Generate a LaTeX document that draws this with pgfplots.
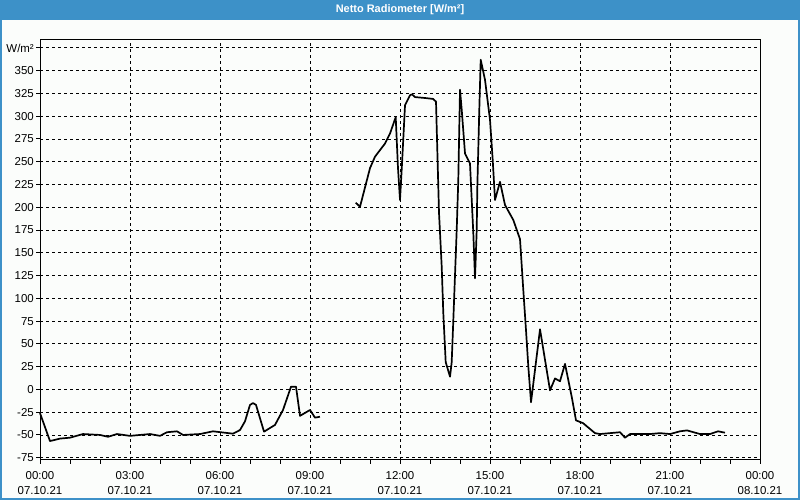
\documentclass[border=0pt]{standalone}
\usepackage{fontspec}
\setmainfont{Liberation Sans}
\usepackage{pgfplots}
\pgfplotsset{compat=1.18}
\definecolor{barblue}{RGB}{61,145,200}
\definecolor{bgc}{RGB}{251,253,251}
\begin{document}
\begin{tikzpicture}[x=1bp,y=1bp]
\useasboundingbox (0,0) rectangle (800,500);
\fill[bgc] (0,0) rectangle (800,500);
\fill[barblue] (0,480) rectangle (800,500);
\node[text=white,font=\bfseries\fontsize{11}{13}\selectfont] at (400,490.5) {Netto Radiometer [W/m²]};
\begin{axis}[
  at={(40bp,40bp)}, anchor=south west,
  scale only axis, width=720bp, height=420bp,
  xmin=0, xmax=24, ymin=-77.5, ymax=383.7,
  axis line style={black, line width=1bp},
  xtick={0,3,...,24},
  minor xtick={1,2,4,5,7,8,10,11,13,14,16,17,19,20,22,23},
  xticklabels={{00:00\\07.10.21},{03:00\\07.10.21},{06:00\\07.10.21},{09:00\\07.10.21},{12:00\\07.10.21},{15:00\\07.10.21},{18:00\\07.10.21},{21:00\\07.10.21},{00:00\\08.10.21}},
  ytick={-75,-50,...,375},
  yticklabels={-75,-50,-25,0,25,50,75,100,125,150,175,200,225,250,275,300,325,350,W/m²},
  xtick pos=bottom, ytick pos=left,
  tick align=outside,
  major tick length=4bp, minor tick length=4bp,
  tick style={black, line width=1bp},
  grid=major,
  major grid style={black, line width=0.9bp, dash pattern=on 3bp off 3bp},
  xticklabel style={align=center, font=\fontsize{11.5}{15}\selectfont, inner sep=2bp, yshift=-5bp},
  yticklabel style={font=\fontsize{11.5}{13}\selectfont, inner sep=2bp},
  clip=false,
]
\addplot[black, line width=1.7bp, line join=round] coordinates {
(0.000,-26) (0.333,-56.7) (0.667,-54) (1.0,-53) (1.433,-49) (2.0,-50) (2.267,-52) (2.567,-49)
(3.0,-51) (3.667,-49) (4.0,-51) (4.233,-47) (4.567,-46) (4.767,-50) (5.333,-49) (5.767,-46)
(6.433,-48.6) (6.667,-44.6) (6.833,-35) (7.0,-17) (7.1,-15) (7.2,-17) (7.467,-46.4) (7.833,-39)
(8.1,-22.6) (8.367,3) (8.533,3) (8.667,-29) (9.0,-22.6) (9.167,-31) (9.333,-30)
};
\addplot[black, line width=1.7bp, line join=round] coordinates {
(10.523,205) (10.667,200.6) (11.0,243) (11.167,255.6) (11.5,270) (11.667,281) (11.857,299)
(11.933,243) (12.0,208) (12.067,248) (12.167,312) (12.333,323) (12.4,324) (12.5,321)
(12.833,320) (13.1,319) (13.2,316) (13.3,194) (13.39,135) (13.443,84) (13.523,30) (13.667,14)
(13.723,30) (13.777,76) (13.89,175) (13.943,230) (14.0,329) (14.057,307) (14.167,259)
(14.333,248) (14.443,172) (14.5,122) (14.557,175) (14.577,222) (14.643,307) (14.69,362)
(14.833,340) (15.0,296) (15.09,252) (15.167,208) (15.333,228) (15.5,202.5) (15.777,186)
(16.0,165) (16.11,109) (16.2,65) (16.277,25) (16.367,-14) (16.667,66) (17.0,-1) (17.167,12)
(17.333,9) (17.5,28) (17.723,-8) (17.867,-34) (18.1,-37) (18.5,-48) (18.667,-49) (19.0,-48)
(19.333,-47) (19.5,-53) (19.667,-49) (20.333,-49) (20.667,-48) (21.0,-49) (21.333,-46)
(21.567,-45) (22.0,-49) (22.333,-49) (22.6,-46) (22.833,-47.5)
};
\end{axis}
\draw[barblue, line width=2bp] (1,1) rectangle (799,499);
\end{tikzpicture}
\end{document}
